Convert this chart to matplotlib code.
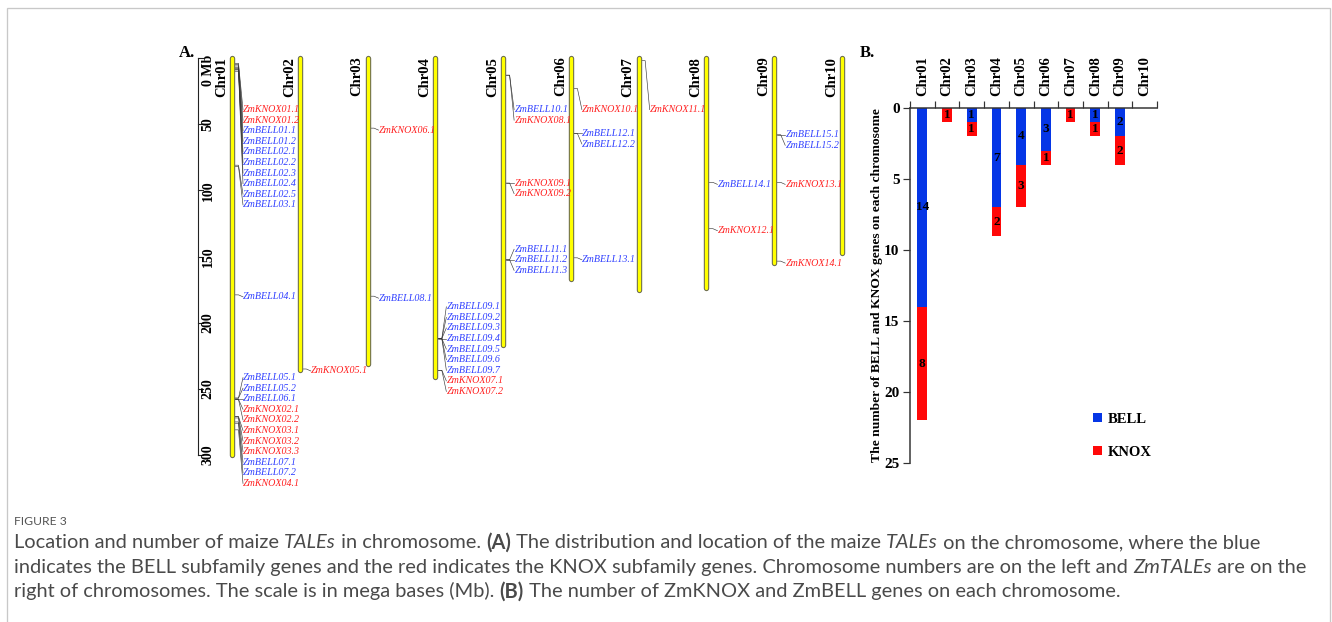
import matplotlib
matplotlib.use('Agg')
import matplotlib.pyplot as plt
from matplotlib.patches import Rectangle
import numpy as np

# ---------------- data ----------------
chrom_names = ['Chr01', 'Chr02', 'Chr03', 'Chr04', 'Chr05',
               'Chr06', 'Chr07', 'Chr08', 'Chr09', 'Chr10']
chrom_len_mb = [300, 236, 231, 241, 217, 167, 175, 174, 155, 147]
ruler_ticks = [0, 50, 100, 150, 200, 250, 300]

gene_names = [
    'ZmKNOX01.1', 'ZmKNOX01.2', 'ZmBELL01.1', 'ZmBELL01.2', 'ZmBELL02.1',
    'ZmBELL02.2', 'ZmBELL02.3', 'ZmBELL02.4', 'ZmBELL02.5', 'ZmBELL03.1',
    'ZmBELL04.1', 'ZmBELL05.1', 'ZmBELL05.2', 'ZmBELL06.1', 'ZmKNOX02.1',
    'ZmKNOX02.2', 'ZmKNOX03.1', 'ZmKNOX03.2', 'ZmKNOX03.3', 'ZmBELL07.1',
    'ZmBELL07.2', 'ZmKNOX04.1',
    'ZmKNOX05.1',
    'ZmKNOX06.1', 'ZmBELL08.1',
    'ZmBELL09.1', 'ZmBELL09.2', 'ZmBELL09.3', 'ZmBELL09.4', 'ZmBELL09.5',
    'ZmBELL09.6', 'ZmBELL09.7', 'ZmKNOX07.1', 'ZmKNOX07.2',
    'ZmBELL10.1', 'ZmKNOX08.1', 'ZmKNOX09.1', 'ZmKNOX09.2',
    'ZmBELL11.1', 'ZmBELL11.2', 'ZmBELL11.3',
    'ZmKNOX10.1', 'ZmBELL12.1', 'ZmBELL12.2', 'ZmBELL13.1',
    'ZmKNOX11.1',
    'ZmBELL14.1', 'ZmKNOX12.1',
    'ZmBELL15.1', 'ZmBELL15.2', 'ZmKNOX13.1', 'ZmKNOX14.1',
]
gene_chrom = ([0] * 22 + [1] + [2] * 2 + [3] * 9 + [4] * 7 + [5] * 4 +
              [6] + [7] * 2 + [8] * 4)
gene_pos_mb = [
    4, 5, 6, 7, 8, 8.5, 9, 10, 81, 82,
    179, 257, 257, 257.5, 258,
    258, 271, 271, 272, 275,
    276, 281,
    235,
    53, 180,
    212, 212, 212, 212, 212,
    212, 212, 236, 236,
    13, 13, 94.5, 94.5,
    152.5, 152.5, 152.5,
    23, 57, 57, 151,
    2,
    94, 129,
    58, 58, 94, 153.5,
]

bell_counts = [14, 0, 1, 7, 4, 3, 0, 1, 2, 0]
knox_counts = [8, 1, 1, 2, 3, 1, 1, 1, 2, 0]
count_ticks = [0, 5, 10, 15, 20, 25]

caption_title = 'FIGURE 3'
caption_lines = [
    [('Location and number of maize ', 'n'), ('TALEs', 'i'),
     (' in chromosome. ', 'n'), ('(A)', 'b'),
     (' The distribution and location of the maize ', 'n'), ('TALEs', 'i'),
     (' on the chromosome, where the blue', 'n')],
    [('indicates the BELL subfamily genes and the red indicates the KNOX '
      'subfamily genes. Chromosome numbers are on the left and ', 'n'),
     ('ZmTALEs', 'i'), (' are on the', 'n')],
    [('right of chromosomes. The scale is in mega bases (Mb). ', 'n'),
     ('(B)', 'b'),
     (' The number of ZmKNOX and ZmBELL genes on each chromosome.', 'n')],
]

# ---------------- style ----------------
W, H, DPI = 1332, 622, 100
SERIF = 'Liberation Serif'
CAP_FONT = 'Lato'
GENE_BLUE = '#3040ff'
GENE_RED = '#ff2020'
BAR_BLUE = '#0536e6'
BAR_RED = '#ff0808'
PT = 72.0 / DPI  # points per pixel

fig = plt.figure(figsize=(W / DPI, H / DPI), dpi=DPI)
fig.patch.set_facecolor('white')


def fx(px):
    return px / W


def fy(py):
    return 1 - py / H


# outer frame
fig.patches.append(Rectangle((fx(6.5), fy(640)), fx(1330) - fx(6.5),
                             fy(8) - fy(640), transform=fig.transFigure,
                             fill=False, edgecolor='#c8c8c8', lw=1.3 * PT))

# ---------------- Panel A ----------------
A_L, A_T, A_R, A_B = 150, 40, 870, 500
axA = fig.add_axes([fx(A_L), fy(A_B), (A_R - A_L) / W, (A_B - A_T) / H])
CH0_X, CH9_X = 232, 842
sx = (CH9_X - CH0_X) / 9.0
Y0, Y300 = 58, 455
sy = (Y300 - Y0) / 300.0
axA.set_xlim(-(CH0_X - A_L) / sx, 9 + (A_R - CH9_X) / sx)
axA.set_ylim((A_B - Y0) / sy, -(Y0 - A_T) / sy)
axA.axis('off')


def dx(p):
    return p / sx


def dy(p):
    return p / sy


# chromosomes
for i, L in enumerate(chrom_len_mb):
    axA.plot([i, i], [0, L], color='#6f6f50', lw=5.4 * PT,
             solid_capstyle='round', zorder=2)
    axA.plot([i, i], [0, L], color='#ffff00', lw=3.2 * PT,
             solid_capstyle='round', zorder=3)
    axA.text(i - dx(4), -1, chrom_names[i], rotation=90, ha='right', va='top',
             fontsize=10.5, fontweight='bold', family=SERIF)

# ruler
rx = -dx(CH0_X - 197.5)
axA.plot([rx, rx], [0, 300], color='#222222', lw=1.1 * PT)
for t in ruler_ticks:
    axA.plot([rx, rx + dx(5)], [t, t], color='#222222', lw=1.1 * PT)
    if t == 0:
        axA.text(rx + dx(10.5), -2.5, '0 Mb', rotation=90, ha='center',
                 va='top', fontsize=10, fontweight='bold', family=SERIF)
    else:
        axA.text(rx + dx(10.5), t, str(t), rotation=90, ha='center',
                 va='center', fontsize=10, fontweight='bold', family=SERIF)

fig.text(fx(179), fy(57), 'A.', fontsize=12, fontweight='bold',
         family=SERIF, ha='left', va='baseline')

# gene label layout
SPACING = 8.0
MIN_TOP = 39.0
n_genes = len(gene_names)
label_y = [0.0] * n_genes
for c in range(len(chrom_names)):
    idx = sorted([k for k in range(n_genes) if gene_chrom[k] == c],
                 key=lambda k: gene_pos_mb[k])
    groups = []
    for k in idx:
        if groups and gene_pos_mb[k] - gene_pos_mb[groups[-1][-1]] <= 2.5:
            groups[-1].append(k)
        else:
            groups.append([k])
    prev = -1e9
    for g in groups:
        m = np.mean([gene_pos_mb[k] for k in g])
        start = m - ((len(g) - 1) // 2) * SPACING + (1.5 if len(g) == 1 else 0)
        start = max(start, MIN_TOP, prev + SPACING)
        for j, k in enumerate(g):
            label_y[k] = start + j * SPACING
        prev = label_y[g[-1]]

for k in range(n_genes):
    c = gene_chrom[k]
    p = gene_pos_mb[k]
    ly = label_y[k]
    x0, x1, x2 = c + dx(2.5), c + dx(6.5), c + dx(11)
    axA.plot([x0, x1, x2], [p, p, ly], color='#333333', lw=0.6 * PT,
             zorder=1)
    col = GENE_BLUE if 'BELL' in gene_names[k] else GENE_RED
    axA.text(x2 + dx(0.3), ly, gene_names[k], ha='left', va='center',
             fontsize=7.2, style='italic', family=SERIF, color=col)

# ---------------- Panel B ----------------
B_L, B_T, B_R, B_B = 910, 108, 1157, 463
axB = fig.add_axes([fx(B_L), fy(B_B), (B_R - B_L) / W, (B_B - B_T) / H])
xpos = np.arange(len(chrom_names)) + 0.5
bars_bell = axB.bar(xpos, bell_counts, width=0.4, color=BAR_BLUE,
                    label='BELL')
bars_knox = axB.bar(xpos, knox_counts, bottom=bell_counts, width=0.4,
                    color=BAR_RED, label='KNOX')
axB.bar_label(bars_bell, labels=[str(v) if v else '' for v in bell_counts],
              label_type='center', fontsize=9.5, fontweight='bold',
              family=SERIF)
axB.bar_label(bars_knox, labels=[str(v) if v else '' for v in knox_counts],
              label_type='center', fontsize=9.5, fontweight='bold',
              family=SERIF)
axB.set_xlim(0, len(chrom_names))
axB.set_ylim(25, 0)
axB.xaxis.tick_top()
axB.set_xticks(np.arange(len(chrom_names) + 1))
axB.set_xticklabels([])
axB.set_xticks(xpos, minor=True)
axB.set_xticklabels(chrom_names, minor=True, rotation=90, fontsize=10.5,
                    fontweight='bold', family=SERIF)
axB.tick_params(axis='x', which='major', length=5, width=1.2 * PT,
                direction='out', top=True, bottom=False, color='#333333')
axB.tick_params(axis='x', which='minor', length=0, top=True, bottom=False,
                labeltop=True, labelbottom=False, pad=9)
axB.set_yticks(count_ticks)
axB.set_yticklabels([str(v) for v in count_ticks], fontsize=11,
                    fontweight='bold', family=SERIF)
axB.tick_params(axis='y', length=5, width=1.2 * PT, direction='out',
                color='#333333', pad=2.5)
for s in ['right', 'bottom']:
    axB.spines[s].set_visible(False)
for s in ['left', 'top']:
    axB.spines[s].set_linewidth(1.5 * PT)
    axB.spines[s].set_color('#333333')
axB.set_ylabel('The number of BELL and KNOX genes on each chromosome',
               fontsize=9.7, fontweight='bold', family=SERIF)
axB.yaxis.set_label_coords((883 - B_L) / (B_R - B_L), 0.5)
axB.legend(handles=[bars_bell, bars_knox], loc='upper left',
           bbox_to_anchor=(fx(1093), fy(413)), bbox_transform=fig.transFigure,
           frameon=False, handlelength=0.6, handleheight=0.6,
           handletextpad=0.4, labelspacing=1.35, borderpad=0,
           borderaxespad=0,
           prop={'family': SERIF, 'weight': 'bold', 'size': 10.5})

fig.text(fx(860), fy(57), 'B.', fontsize=12, fontweight='bold',
         family=SERIF, ha='left', va='baseline')

# ---------------- Caption ----------------
renderer = fig.canvas.get_renderer()
STYLES = {'n': {}, 'i': {'style': 'italic'}, 'b': {'weight': 'bold'}}


def text_w(s, size, style):
    t = fig.text(0, 0, s, fontsize=size, family=CAP_FONT, **STYLES[style])
    w = t.get_window_extent(renderer).width
    t.remove()
    return w


def seg_w(s, size, style):
    return text_w('x' + s + 'x', size, style) - text_w('xx', size, style)


base = 10.0
w1 = sum(seg_w(s, base, st) for s, st in caption_lines[0])
cap_size = base * (1262 - 14) / w1
CAP_COLOR = '#4a4a4a'

tw = seg_w(caption_title, base, 'n')
title_size = base * (66 - 14) / tw
fig.text(fx(14), fy(525), caption_title, fontsize=title_size,
         family=CAP_FONT, color='#555555', ha='left', va='baseline')

baselines = [548.5, 573, 597.5]
for line, by in zip(caption_lines, baselines):
    xcur = 14.0
    for s, st in line:
        fig.text(fx(xcur), fy(by), s, fontsize=cap_size, family=CAP_FONT,
                 color=CAP_COLOR, ha='left', va='baseline', **STYLES[st])
        xcur += seg_w(s, cap_size, st)

fig.savefig('out.png', dpi=DPI, facecolor='white')
